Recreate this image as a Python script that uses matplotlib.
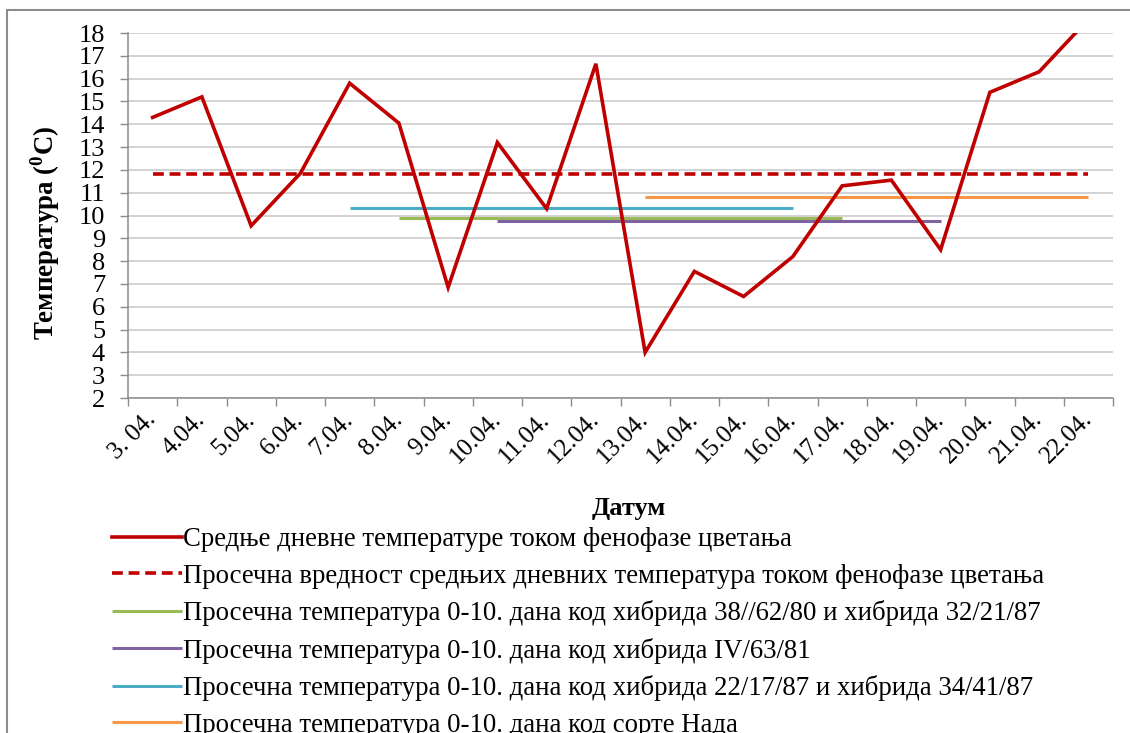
import matplotlib
matplotlib.use("Agg")
import matplotlib.pyplot as plt
from matplotlib.patches import Rectangle
from matplotlib.font_manager import FontProperties

SERIF = 'Liberation Serif'
plt.rcParams['font.family'] = 'serif'
plt.rcParams['font.serif'] = [SERIF, 'DejaVu Serif']
plt.rcParams['mathtext.fontset'] = 'custom'
plt.rcParams['mathtext.rm'] = SERIF
plt.rcParams['mathtext.bf'] = SERIF + ':bold'

# ---- data ----
dates = ['3. 04.', '4.04.', '5.04.', '6.04.', '7.04.', '8.04.', '9.04.', '10.04.',
         '11.04.', '12.04.', '13.04.', '14.04.', '15.04.', '16.04.', '17.04.',
         '18.04.', '19.04.', '20.04.', '21.04.', '22.04.']
daily_temp = [14.3, 15.2, 9.55, 11.85, 15.8, 14.05, 6.85, 13.2, 10.3, 16.65,
              4.0, 7.55, 6.45, 8.2, 11.3, 11.55, 8.5, 15.4, 16.3, 18.6]
mean_temp = 11.8
mean_span = ('3. 04.', '22.04.')

green_temp = 9.9
green_span = ('8.04.', '17.04.')
purple_temp = 9.78
purple_span = ('10.04.', '19.04.')
teal_temp = 10.35
teal_span = ('7.04.', '16.04.')
orange_temp = 10.8
orange_span = ('13.04.', '22.04.')

labels = [
    'Средње дневне температуре током фенофазе цветања',
    'Просечна вредност средњих дневних температура током фенофазе цветања',
    'Просечна температура 0-10. дана код хибрида 38//62/80 и хибрида 32/21/87',
    'Просечна температура 0-10. дана код хибрида IV/63/81',
    'Просечна температура 0-10. дана код хибрида 22/17/87 и хибрида 34/41/87',
    'Просечна температура 0-10. дана код сорте Нада',
]
y_ticks = list(range(2, 19))

RED = '#C00000'
GREEN = '#9BBB59'
PURPLE = '#8064A2'
TEAL = '#4BACC6'
ORANGE = '#F79646'

W, H = 1130, 733
fig = plt.figure(figsize=(W / 100, H / 100), dpi=100)
fig.patch.set_facecolor('white')
fig.patches.append(Rectangle((7 / W, -0.1), 1.2, 1.1 - 10 / H, transform=fig.transFigure,
                             fill=False, edgecolor='#8C8C8C', linewidth=1.5))

ax = fig.add_axes([128 / W, 1 - 398 / H, (1113 - 128) / W, (398 - 33) / H])

idx = {d: i for i, d in enumerate(dates)}
x = list(range(len(dates)))

def span_line(span, val, color, **kw):
    a, b = idx[span[0]], idx[span[1]]
    return ax.plot([a, b], [val, val], color=color, solid_capstyle='butt', **kw)[0]

h_red, = ax.plot(x, daily_temp, color=RED, linewidth=2.6, solid_joinstyle='miter', zorder=5)
h_mean = span_line(mean_span, mean_temp, RED, linewidth=2.6, linestyle=(0, (3, 1.6)), zorder=4)
h_green = span_line(green_span, green_temp, GREEN, linewidth=2.2, zorder=3)
h_purple = span_line(purple_span, purple_temp, PURPLE, linewidth=2.2, zorder=3)
h_teal = span_line(teal_span, teal_temp, TEAL, linewidth=2.2, zorder=3)
h_orange = span_line(orange_span, orange_temp, ORANGE, linewidth=2.2, zorder=3)

ax.set_xlim(-0.5, len(dates) - 0.5)
ax.set_ylim(2, 18)
ax.set_yticks(y_ticks)
ax.set_yticklabels([str(v) for v in y_ticks], fontsize=19, family=SERIF)
ax.yaxis.grid(True, color='#C8C8C8', linewidth=1.1)
ax.set_axisbelow(True)

ax.set_xticks(x)
ax.set_xticklabels(dates, fontsize=18, rotation=45, ha='right', va='center',
                   rotation_mode='anchor', family=SERIF)
ax.set_xticks([i - 0.5 for i in range(len(dates) + 1)], minor=True)
ax.tick_params(axis='x', which='major', length=0, pad=13)
ax.tick_params(axis='x', which='minor', length=6, color='#8C8C8C', width=1)
ax.tick_params(axis='y', length=6, color='#8C8C8C', width=1, pad=10.5)

for s in ['top', 'right']:
    ax.spines[s].set_visible(False)
for s in ['left', 'bottom']:
    ax.spines[s].set_color('#8C8C8C')
    ax.spines[s].set_linewidth(1.1)

ax.set_ylabel('Температура ($^{\\mathbf{0}}$C)', fontsize=19.4, fontweight='bold',
              family=SERIF)
ax.yaxis.set_label_coords((62 - 128) / 985, 1 - (233 - 33) / 365)
fig.text(629 / W, 1 - 508 / H, 'Датум', fontsize=19, fontweight='bold', ha='center',
         va='center', family=SERIF)

handles = [h_red, h_mean, h_green, h_purple, h_teal, h_orange]
leg = fig.legend(handles, labels, loc='upper left', bbox_to_anchor=(112 / W, 1 - 527 / H),
                 frameon=False, prop=FontProperties(family=SERIF, size=19.3),
                 handlelength=2.6, handletextpad=0.05,
                 labelspacing=0.43, borderpad=0, borderaxespad=0)

fig.savefig('out.png', dpi=100)
